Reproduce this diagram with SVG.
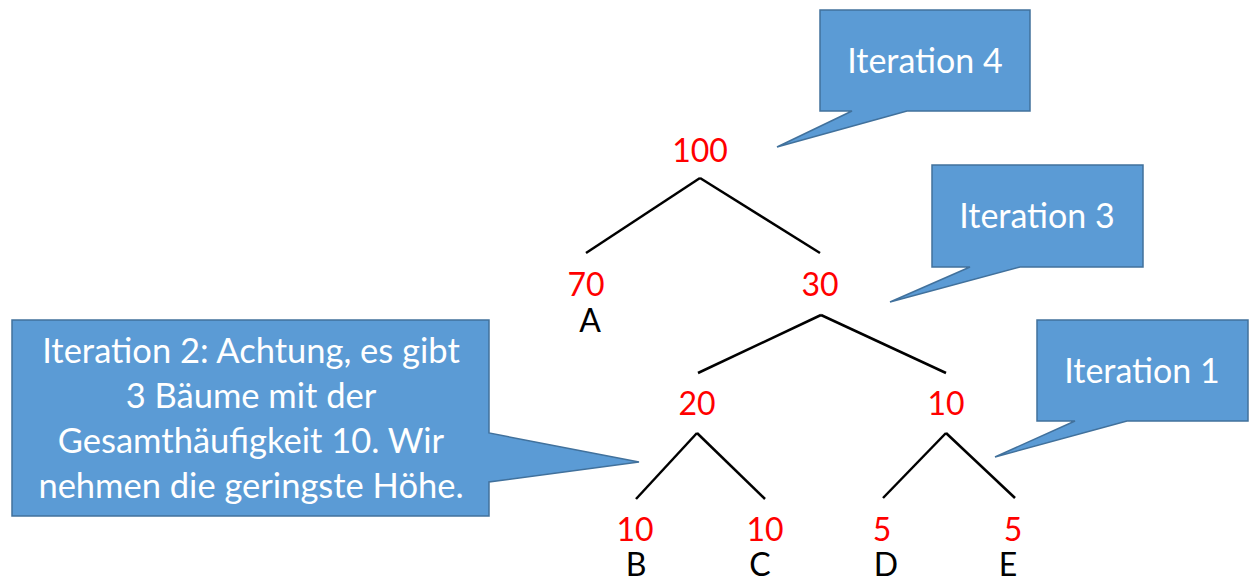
<svg xmlns="http://www.w3.org/2000/svg" width="1249" height="578" viewBox="0 0 1249 578">
<style>
.callout{fill:#5B9BD5;stroke:#41719C;stroke-width:1.5;stroke-linejoin:miter}
.ct{font-family:Lato,"Open Sans",sans-serif;font-size:34px;fill:#fff;text-anchor:middle}
.ct2{font-family:Lato,"Open Sans",sans-serif;font-size:34.5px;fill:#fff;text-anchor:middle}
.num{font-family:Lato,"Open Sans",sans-serif;font-size:32px;fill:#FF0000;text-anchor:middle}
.lbl{font-family:Lato,"Open Sans",sans-serif;font-size:32px;fill:#000;text-anchor:middle}
.edge{stroke:#000;stroke-width:2.5;fill:none;stroke-linecap:butt}
</style>
<rect width="1249" height="578" fill="#fff"/>
<g id="connectors">
<line class="edge" x1="700" y1="178" x2="586" y2="253"/>
<line class="edge" x1="700" y1="178" x2="820" y2="253"/>
<line class="edge" x1="821" y1="315" x2="698" y2="373"/>
<line class="edge" x1="821" y1="315" x2="946" y2="373"/>
<line class="edge" x1="697" y1="433" x2="636" y2="499"/>
<line class="edge" x1="697" y1="433" x2="765" y2="499"/>
<line class="edge" x1="946" y1="433" x2="883" y2="498"/>
<line class="edge" x1="946" y1="433" x2="1015" y2="498"/>
</g>
<g id="n100"><text class="num" x="700" y="162">100</text></g>
<g id="n70"><text class="num" x="586" y="296">70</text><text class="lbl" x="590" y="332">A</text></g>
<g id="n30"><text class="num" x="820" y="296">30</text></g>
<g id="n20"><text class="num" x="697" y="415">20</text></g>
<g id="n10r"><text class="num" x="946" y="415">10</text></g>
<g id="nB"><text class="num" x="635" y="541">10</text><text class="lbl" x="636" y="576">B</text></g>
<g id="nC"><text class="num" x="765" y="541">10</text><text class="lbl" x="760" y="576">C</text></g>
<g id="nD"><text class="num" x="882" y="541">5</text><text class="lbl" x="886" y="576">D</text></g>
<g id="nE"><text class="num" x="1013" y="541">5</text><text class="lbl" x="1008" y="576">E</text></g>
<g id="it4">
<path class="callout" d="M820,10 H1030 V111 H907 L777,147 L852,111 H820 Z"/>
<text class="ct" x="925" y="73">Iteration 4</text>
</g>
<g id="it3">
<path class="callout" d="M932,165 H1143 V267 H1020 L890,302 L970,267 H932 Z"/>
<text class="ct" x="1037" y="228">Iteration 3</text>
</g>
<g id="it1">
<path class="callout" d="M1037,320 H1248 V421 H1127 L995,457 L1075,421 H1037 Z"/>
<text class="ct" x="1142" y="383">Iteration 1</text>
</g>
<g id="it2">
<path class="callout" d="M12,320 H489 V433 L639,462 L489,482 V516 H12 Z"/>
<text class="ct2" x="251" y="363">Iteration 2: Achtung, es gibt</text>
<text class="ct2" x="251" y="408">3 Bäume mit der</text>
<text class="ct2" x="251" y="453">Gesamthäufigkeit 10. Wir</text>
<text class="ct2" x="251" y="498">nehmen die geringste Höhe.</text>
</g>
</svg>
